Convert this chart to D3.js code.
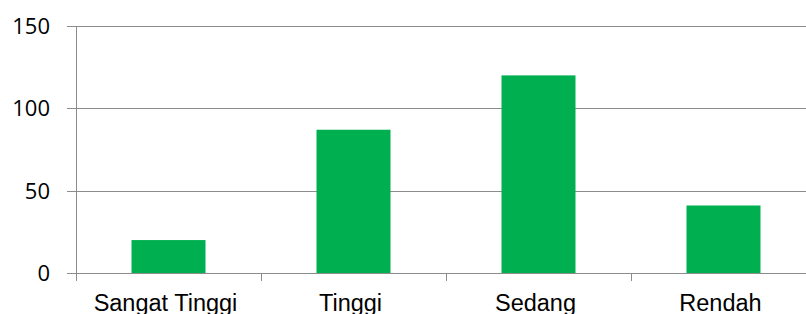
<!DOCTYPE html>
<html>
<head>
<meta charset="utf-8">
<script src="https://cdn.jsdelivr.net/npm/d3@7"></script>
<style>
  html, body { margin: 0; padding: 0; background: #fff; }
  svg { display: block; overflow: hidden; }
</style>
</head>
<body>
<div id="chart"></div>
<script>
const categories = ["Sangat Tinggi", "Tinggi", "Sedang", "Rendah"];
const values = [20, 87, 120, 41];
const yTicks = [0, 50, 100, 150];

const width = 806;
const height = 314;
const margin = { top: 26, left: 76 };
const plotW = 740; // plot runs past the right edge, like the original
const plotH = 247;

const svg = d3.select("#chart")
  .append("svg")
  .attr("width", width)
  .attr("height", height);

const g = svg.append("g")
  .attr("transform", `translate(${margin.left},${margin.top})`);

const x = d3.scaleBand()
  .domain(categories)
  .range([0, plotW])
  .paddingInner(0.6)
  .paddingOuter(0.3);

const y = d3.scaleLinear()
  .domain([0, 150])
  .range([plotH, 0]);

const gridColor = "#8c8c8c";

// horizontal gridlines + left ticks
g.selectAll("line.grid")
  .data(yTicks)
  .enter()
  .append("line")
  .attr("class", "grid")
  .attr("x1", -9)
  .attr("x2", plotW)
  .attr("y1", (d) => Math.round(y(d)) + 0.5)
  .attr("y2", (d) => Math.round(y(d)) + 0.5)
  .attr("stroke", gridColor)
  .attr("stroke-width", 1);

// y labels
g.selectAll("text.ylab")
  .data(yTicks)
  .enter()
  .append("text")
  .attr("class", "ylab")
  .attr("x", -26)
  .attr("y", (d) => y(d))
  .attr("dy", "0.36em")
  .attr("text-anchor", "end")
  .style("font-family", "'Open Sans', sans-serif")
  .style("font-size", "22px")
  .style("fill", "#000")
  .text((d) => d);

// bars
g.selectAll("rect")
  .data(values)
  .enter()
  .append("rect")
  .attr("x", (d, i) => x(categories[i]))
  .attr("y", (d) => y(d))
  .attr("width", x.bandwidth())
  .attr("height", (d) => y(0) - y(d))
  .attr("fill", "#00af50");

// vertical axis line
g.append("line")
  .attr("x1", 0.5).attr("x2", 0.5)
  .attr("y1", 0).attr("y2", plotH + 8)
  .attr("stroke", gridColor);

// category boundary ticks
const step = x.step();
g.selectAll("line.xtick")
  .data(d3.range(1, categories.length + 1))
  .enter()
  .append("line")
  .attr("class", "xtick")
  .attr("x1", (d) => Math.round(d * step) + 0.5)
  .attr("x2", (d) => Math.round(d * step) + 0.5)
  .attr("y1", plotH)
  .attr("y2", plotH + 8)
  .attr("stroke", gridColor);

// x labels (sit a little left of the bar centres, as in the original)
g.selectAll("text.xlab")
  .data(categories)
  .enter()
  .append("text")
  .attr("class", "xlab")
  .attr("x", (d) => x(d) + x.bandwidth() / 2 - 3)
  .attr("y", plotH + 38)
  .attr("text-anchor", "middle")
  .style("font-family", "'Liberation Sans', Arial, sans-serif")
  .style("font-size", "23.5px")
  .style("fill", "#000")
  .text((d) => d);
</script>
</body>
</html>
